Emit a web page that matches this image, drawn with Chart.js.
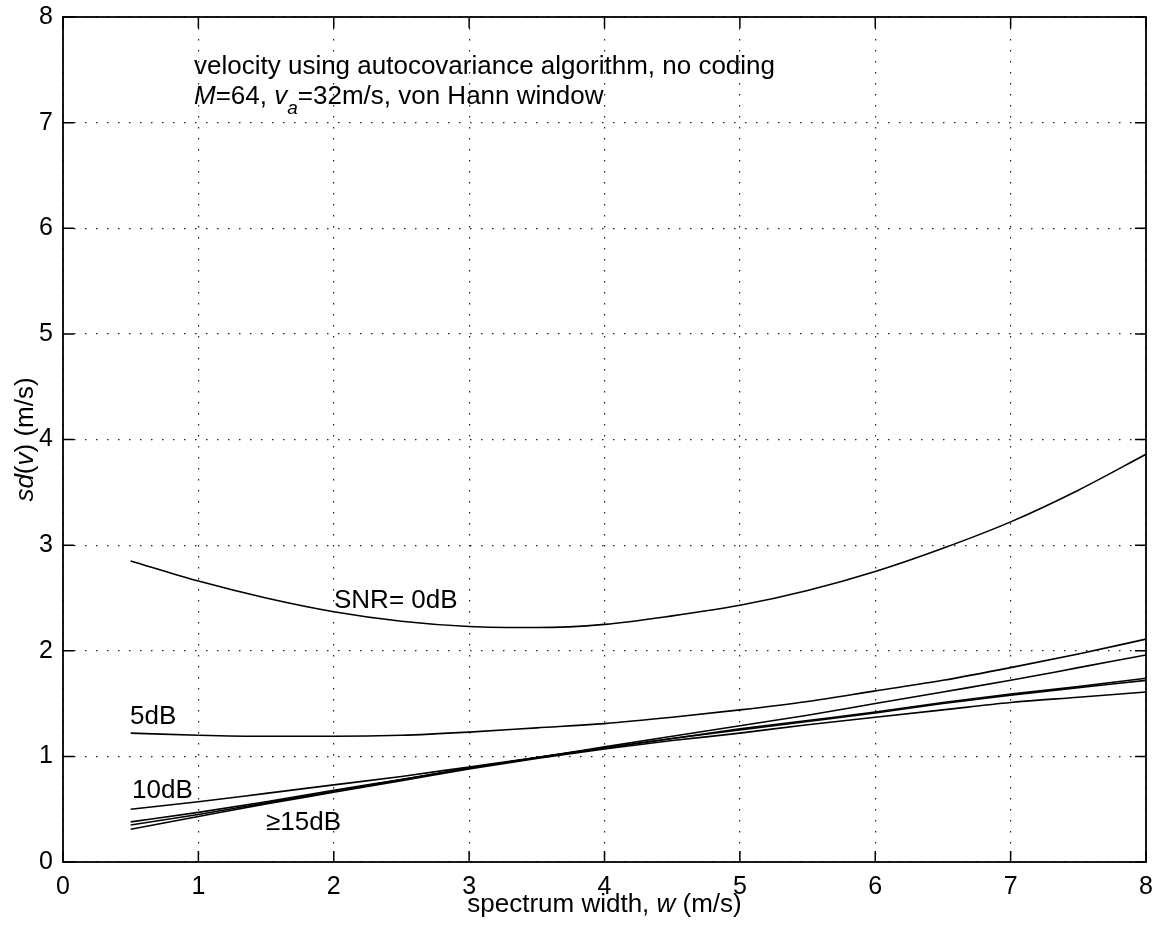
<!DOCTYPE html>
<html>
<head>
<meta charset="utf-8">
<script src="https://cdn.jsdelivr.net/npm/chart.js@4/dist/chart.umd.min.js"></script>
<style>
  body { margin: 0; background: #fff; }
  canvas { display: block; }
</style>
</head>
<body>
<canvas id="sdChart" width="1159" height="931"></canvas>
<script>
  'use strict';

  // spectrum width w (m/s)
  var widths = [0.5, 1, 1.5, 2, 2.5, 3, 3.5, 4, 4.5, 5, 5.5, 6, 6.5, 7, 7.5, 8];
  // sd(v) for each SNR
  var sd_0dB  = [2.85, 2.66, 2.50, 2.37, 2.28, 2.23, 2.22, 2.25, 2.33, 2.43, 2.57, 2.75, 2.97, 3.22, 3.52, 3.86];
  var sd_5dB  = [1.22, 1.20, 1.19, 1.19, 1.20, 1.23, 1.27, 1.31, 1.37, 1.44, 1.52, 1.62, 1.72, 1.84, 1.97, 2.11];
  var sd_10dB = [0.50, 0.57, 0.65, 0.73, 0.81, 0.90, 0.99, 1.09, 1.19, 1.29, 1.39, 1.50, 1.61, 1.72, 1.84, 1.96];
  var sd_15dB = [0.38, 0.47, 0.57, 0.68, 0.78, 0.89, 0.99, 1.08, 1.17, 1.26, 1.34, 1.42, 1.51, 1.59, 1.66, 1.74];
  var sd_20dB = [0.35, 0.45, 0.56, 0.67, 0.78, 0.89, 0.99, 1.08, 1.17, 1.25, 1.33, 1.41, 1.50, 1.58, 1.65, 1.72];
  var sd_inf  = [0.31, 0.43, 0.55, 0.66, 0.77, 0.88, 0.98, 1.07, 1.15, 1.22, 1.30, 1.37, 1.44, 1.51, 1.56, 1.61];

  var xTicks = [0, 1, 2, 3, 4, 5, 6, 7, 8];
  var yTicks = [0, 1, 2, 3, 4, 5, 6, 7, 8];

  var FONT = '"Liberation Sans", Arial, Helvetica, sans-serif';
  var TXT = 26;

  function series(vals) {
    var pts = [];
    for (var i = 0; i < widths.length; i++) pts.push({x: widths[i], y: vals[i]});
    return {
      data: pts,
      borderColor: '#000',
      borderWidth: 1.6,
      pointRadius: 0,
      fill: false,
      cubicInterpolationMode: 'monotone'
    };
  }

  // draw a row of text pieces: [text, italic, size, yShift]
  function drawRuns(ctx, x, y, runs) {
    runs.forEach(function (r) {
      ctx.font = (r[1] ? 'italic ' : '') + r[2] + 'px ' + FONT;
      ctx.fillText(r[0], x, y + (r[3] || 0));
      x += ctx.measureText(r[0]).width;
    });
    return x;
  }

  function runsWidth(ctx, runs) {
    var w = 0;
    runs.forEach(function (r) {
      ctx.font = (r[1] ? 'italic ' : '') + r[2] + 'px ' + FONT;
      w += ctx.measureText(r[0]).width;
    });
    return w;
  }

  var framePlugin = {
    id: 'matlabFrame',
    afterDraw: function (chart) {
      var ctx = chart.ctx;
      var a = chart.chartArea;
      var xs = chart.scales.x, ys = chart.scales.y;
      var tl = 11;
      ctx.save();
      ctx.strokeStyle = '#000';
      ctx.lineWidth = 1.8;
      ctx.setLineDash([]);
      ctx.strokeRect(a.left, a.top, a.right - a.left, a.bottom - a.top);
      ctx.lineWidth = 1.5;
      ctx.beginPath();
      xTicks.forEach(function (v) {
        var px = xs.getPixelForValue(v);
        ctx.moveTo(px, a.bottom); ctx.lineTo(px, a.bottom - tl);
        ctx.moveTo(px, a.top); ctx.lineTo(px, a.top + tl);
      });
      yTicks.forEach(function (v) {
        var py = ys.getPixelForValue(v);
        ctx.moveTo(a.left, py); ctx.lineTo(a.left + tl, py);
        ctx.moveTo(a.right, py); ctx.lineTo(a.right - tl, py);
      });
      ctx.stroke();

      ctx.fillStyle = '#000';
      ctx.textBaseline = 'alphabetic';
      ctx.textAlign = 'left';

      // annotation block
      drawRuns(ctx, 194, 74, [['velocity using autocovariance algorithm, no coding', false, TXT]]);
      drawRuns(ctx, 194, 104, [
        ['M', true, TXT], ['=64, ', false, TXT], ['v', true, TXT],
        ['a', true, 19, 10], ['=32m/s, von Hann window', false, TXT]
      ]);

      // curve labels
      drawRuns(ctx, 334, 608, [['SNR= 0dB', false, TXT]]);
      drawRuns(ctx, 130, 724, [['5dB', false, TXT]]);
      drawRuns(ctx, 132, 798, [['10dB', false, TXT]]);
      drawRuns(ctx, 266, 830, [['\u226515dB', false, TXT]]);

      // x axis title
      var xRuns = [['spectrum width, ', false, TXT], ['w', true, TXT], [' (m/s)', false, TXT]];
      var cx = (a.left + a.right) / 2;
      drawRuns(ctx, cx - runsWidth(ctx, xRuns) / 2, 912, xRuns);

      // y axis title (rotated)
      var yRuns = [['sd', true, TXT], ['(', false, TXT], ['v', true, TXT], [') (m/s)', false, TXT]];
      ctx.translate(33, (a.top + a.bottom) / 2);
      ctx.rotate(-Math.PI / 2);
      drawRuns(ctx, -runsWidth(ctx, yRuns) / 2, 0, yRuns);
      ctx.restore();
    }
  };

  var gridOpts = {
    color: '#222',
    lineWidth: 1.2,
    drawTicks: false
  };

  new Chart(document.getElementById('sdChart').getContext('2d'), {
    type: 'line',
    data: {
      datasets: [
        series(sd_0dB), series(sd_5dB), series(sd_10dB),
        series(sd_15dB), series(sd_20dB), series(sd_inf)
      ]
    },
    options: {
      responsive: false,
      devicePixelRatio: 1,
      animation: false,
      events: [],
      layout: { padding: { top: 17, right: 13, left: 0, bottom: 0 } },
      plugins: { legend: { display: false }, tooltip: { enabled: false } },
      scales: {
        x: {
          type: 'linear',
          min: 0, max: 8,
          afterFit: function (s) { s.height = 69; s.paddingLeft = 0; s.paddingRight = 0; },
          afterBuildTicks: function (s) { s.ticks = xTicks.map(function (v) { return {value: v}; }); },
          grid: gridOpts,
          border: { display: false, dash: [1.5, 9.5] },
          ticks: {
            color: '#000', padding: 10, autoSkip: false, maxRotation: 0,
            font: { family: FONT, size: 25 }
          }
        },
        y: {
          type: 'linear',
          min: 0, max: 8,
          afterFit: function (s) { s.width = 63; s.paddingTop = 0; s.paddingBottom = 0; },
          afterBuildTicks: function (s) { s.ticks = yTicks.map(function (v) { return {value: v}; }); },
          grid: gridOpts,
          border: { display: false, dash: [1.5, 9.5] },
          ticks: {
            color: '#000', padding: 10, autoSkip: false,
            font: { family: FONT, size: 25 }
          }
        }
      }
    },
    plugins: [framePlugin]
  });
</script>
</body>
</html>
